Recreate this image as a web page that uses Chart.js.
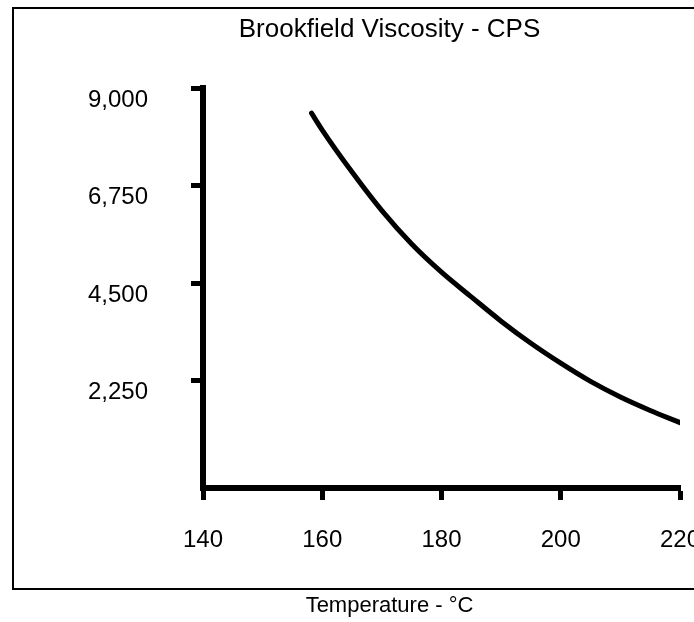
<!DOCTYPE html>
<html>
<head>
<meta charset="utf-8">
<script src="https://cdn.jsdelivr.net/npm/chart.js@4.4.0/dist/chart.umd.min.js"></script>
<style>
  html, body { margin: 0; padding: 0; background: #fff; }
  #wrap { width: 694px; height: 622px; position: relative; }
</style>
</head>
<body>
<div id="wrap"><canvas id="viscChart"></canvas></div>
<script>
// values
const temps = [158.2, 160, 165, 170, 175, 180, 185, 190, 195, 200, 205, 210, 215, 220];
const viscosity = [8420, 8030, 7060, 6170, 5400, 4750, 4180, 3620, 3110, 2650, 2230, 1870, 1560, 1280];
const yTicks = [2250, 4500, 6750, 9000];
const xTicks = [140, 160, 180, 200, 220];

const FONT = "'Liberation Sans', Arial, Helvetica, sans-serif";

// outer box around the figure (open on the right, like the scan)
const framePlugin = {
    id: 'frame',
    beforeDraw(chart) {
        const c = chart.ctx;
        c.save();
        c.strokeStyle = '#000';
        c.lineWidth = 2;
        c.beginPath();
        c.moveTo(700, 8);
        c.lineTo(13, 8);
        c.lineTo(13, 589);
        c.lineTo(700, 589);
        c.stroke();
        c.restore();
    }
};

document.addEventListener('DOMContentLoaded', () => {
    const ctx = document.getElementById('viscChart').getContext('2d');
    new Chart(ctx, {
        type: 'line',
        data: {
            datasets: [{
                label: 'Brookfield Viscosity',
                data: temps.map((t, i) => ({ x: t, y: viscosity[i] })),
                borderColor: '#000',
                borderWidth: 5,
                borderCapStyle: 'round',
                pointRadius: 0,
                cubicInterpolationMode: 'monotone',
                fill: false
            }]
        },
        options: {
            responsive: true,
            maintainAspectRatio: false,
            animation: false,
            layout: { padding: { left: 85, right: 0, top: 0, bottom: 0 } },
            plugins: {
                legend: { display: false },
                tooltip: { enabled: false },
                title: {
                    display: true,
                    text: 'Brookfield Viscosity - CPS',
                    color: '#000',
                    font: { family: FONT, size: 26, weight: 'normal' },
                    padding: { top: 14.4, bottom: 42.4 }
                },
                subtitle: {
                    display: true,
                    position: 'bottom',
                    text: 'Temperature - \u00B0C',
                    color: '#000',
                    font: { family: FONT, size: 22, weight: 'normal' },
                    padding: { top: 38, bottom: 2.8 }
                }
            },
            scales: {
                x: {
                    type: 'linear',
                    min: 140,
                    max: 220,
                    afterBuildTicks: s => { s.ticks = xTicks.map(v => ({ value: v })); },
                    afterFit: s => { s.height = 66.8; s.paddingLeft = 0; s.paddingRight = 14; },
                    border: { display: true, color: '#000', width: 6 },
                    grid: { drawOnChartArea: false, tickLength: 12, tickWidth: 5, tickColor: '#000' },
                    ticks: { color: '#000', padding: 26, font: { family: FONT, size: 24 } }
                },
                y: {
                    type: 'linear',
                    min: -230,
                    max: 9000,
                    afterBuildTicks: s => { s.ticks = yTicks.map(v => ({ value: v })); },
                    afterFit: s => { s.width = 118; s.paddingTop = 0; s.paddingBottom = 0; },
                    border: { display: true, color: '#000', width: 6 },
                    grid: { drawOnChartArea: false, tickLength: 12, tickWidth: 5, tickColor: '#000' },
                    ticks: {
                        color: '#000',
                        padding: 43,
                        labelOffset: 12,
                        font: { family: FONT, size: 24 },
                        callback: v => v.toLocaleString('en-US')
                    }
                }
            }
        },
        plugins: [framePlugin]
    });
});
</script>
</body>
</html>
